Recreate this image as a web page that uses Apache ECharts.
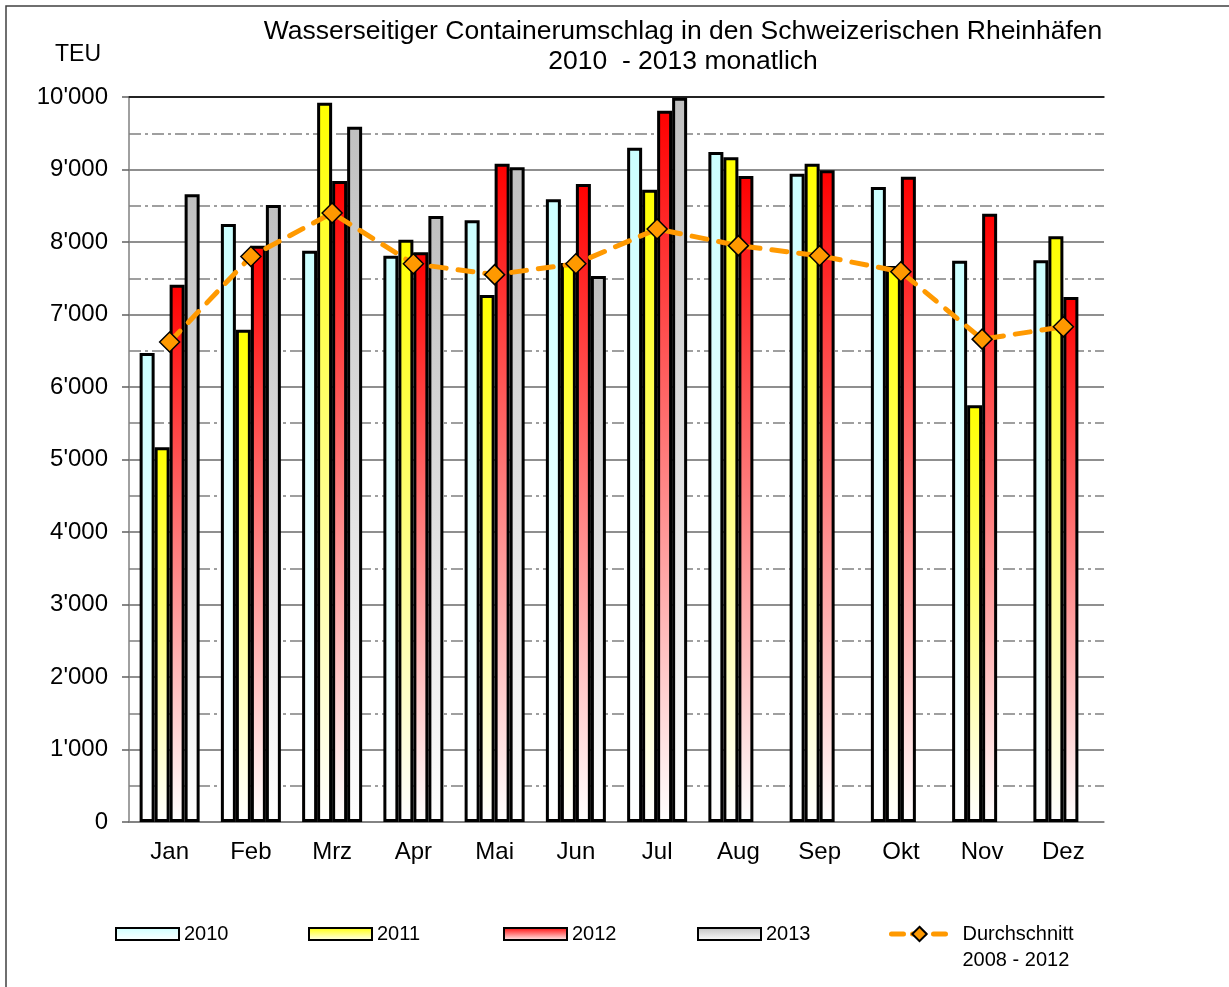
<!DOCTYPE html>
<html>

<head>
    <meta charset="utf-8">
    <title>Containerumschlag</title>
    <script src="https://cdn.jsdelivr.net/npm/echarts@6/dist/echarts.min.js"></script>
    <style>
        body { margin: 0; background: #fff; }
    </style>
</head>

<body>
    <div id="main" style="width: 1229px;height:987px;"></div>
    <script type="text/javascript">
        // Monate
        const months = ['Jan', 'Feb', 'Mrz', 'Apr', 'Mai', 'Jun', 'Jul', 'Aug', 'Sep', 'Okt', 'Nov', 'Dez']
        // TEU pro Monat
        const teu2010 = [6470, 8250, 7880, 7810, 8300, 8590, 9300, 9240, 8940, 8760, 7740, 7750]
        const teu2011 = [5170, 6790, 9920, 8030, 7270, 7710, 8720, 9170, 9080, 7670, 5750, 8080]
        const teu2012 = [7410, 7950, 8840, 7860, 9080, 8800, 9810, 8910, 8990, 8900, 8390, 7240]
        const teu2013 = [8660, 8510, 9590, 8360, 9030, 7530, 9990, null, null, null, null, null]
        const avg0812 = [6620, 7800, 8400, 7700, 7550, 7700, 8180, 7950, 7810, 7590, 6660, 6830]

        const font = "'Liberation Sans', Arial, sans-serif"

        const grad = (top) => new echarts.graphic.LinearGradient(0, 0, 0, 1, [
            { offset: 0, color: top },
            { offset: 1, color: '#ffffff' }
        ])

        const barSeries = (name, data, top) => ({
            name: name,
            type: 'bar',
            data: data,
            barWidth: 15,
            barGap: '0%',
            itemStyle: {
                color: grad(top),
                borderColor: '#000',
                borderWidth: 3
            }
        })

        const barLegend = (name, left) => ({
            data: [name],
            left: left,
            top: 924,
            padding: 0,
            icon: 'rect',
            itemWidth: 63,
            itemHeight: 12,
            textStyle: { fontFamily: font, fontSize: 20, color: '#000' }
        })

        var myChart = echarts.init(document.getElementById('main'));
        var option = {
            animation: false,
            backgroundColor: '#fff',
            title: {
                text: 'Wasserseitiger Containerumschlag in den Schweizerischen Rheinhäfen\n2010  - 2013 monatlich',
                left: 683,
                top: 17,
                padding: 0,
                textAlign: 'center',
                textStyle: {
                    fontFamily: font,
                    fontSize: 26.5,
                    fontWeight: 'normal',
                    color: '#000',
                    lineHeight: 30
                }
            },
            graphic: [
                {
                    type: 'rect',
                    shape: { x: 6, y: 6, width: 1240, height: 1000 },
                    style: { fill: 'none', stroke: '#404040', lineWidth: 1.5 }
                },
                {
                    type: 'text',
                    left: 55,
                    top: 43,
                    style: { text: 'TEU', fontFamily: font, fontSize: 23, fill: '#000' }
                }
            ],
            legend: [
                barLegend('2010', 115),
                barLegend('2011', 308),
                barLegend('2012', 503),
                barLegend('2013', 697),
                {
                    data: ['Durchschnitt\n2008 - 2012'],
                    formatter: (name) => '\n' + name,
                    left: 889,
                    top: 895,
                    padding: 0,
                    itemWidth: 56,
                    itemHeight: 18,
                    lineStyle: { color: '#ff9900', width: 5, type: [12, 9] },
                    textStyle: {
                        fontFamily: font,
                        fontSize: 20,
                        color: '#000',
                        lineHeight: 26,
                        padding: [0, 0, 0, 10]
                    }
                }
            ],
            grid: {
                left: 129,
                right: 125,
                top: 97,
                bottom: 165
            },
            xAxis: [
                {
                    type: 'category',
                    data: months,
                    axisLine: { lineStyle: { color: '#808080', width: 1.5 } },
                    axisTick: { length: 8, lineStyle: { color: '#606060', width: 1.5 } },
                    axisLabel: { color: '#000', fontFamily: font, fontSize: 24, margin: 18 }
                },
                {
                    type: 'category',
                    data: months,
                    position: 'top',
                    axisLine: { lineStyle: { color: '#000', width: 1.5 } },
                    axisTick: { show: false },
                    axisLabel: { show: false }
                }
            ],
            yAxis: {
                type: 'value',
                min: 0,
                max: 10000,
                interval: 1000,
                axisLine: { show: true, lineStyle: { color: '#808080', width: 1.5 } },
                axisTick: { show: true, length: 7, lineStyle: { color: '#606060', width: 1.5 } },
                axisLabel: {
                    color: '#000',
                    fontFamily: font,
                    fontSize: 24,
                    margin: 21,
                    formatter: (v) => v >= 1000 ? Math.floor(v / 1000) + "'" + String(v % 1000).padStart(3, '0') : String(v)
                },
                splitLine: { lineStyle: { color: '#6a6a6a', width: 1.5 } },
                minorTick: { show: false, splitNumber: 2 },
                minorSplitLine: {
                    show: true,
                    lineStyle: { color: '#808080', width: 1.5, type: [12, 4, 3, 4] }
                }
            },
            series: [
                barSeries('2010', teu2010, '#ccffff'),
                barSeries('2011', teu2011, '#ffff00'),
                barSeries('2012', teu2012, '#ff0000'),
                barSeries('2013', teu2013, '#c0c0c0'),
                {
                    name: 'Durchschnitt\n2008 - 2012',
                    type: 'line',
                    data: avg0812,
                    z: 5,
                    symbol: 'diamond',
                    symbolSize: 20,
                    lineStyle: { color: '#ff9900', width: 5, type: [15, 12], cap: 'round' },
                    itemStyle: { color: '#ff9900', borderColor: '#000', borderWidth: 1.5 }
                }
            ]
        };

        myChart.setOption(option);

    </script>
</body>

</html>
